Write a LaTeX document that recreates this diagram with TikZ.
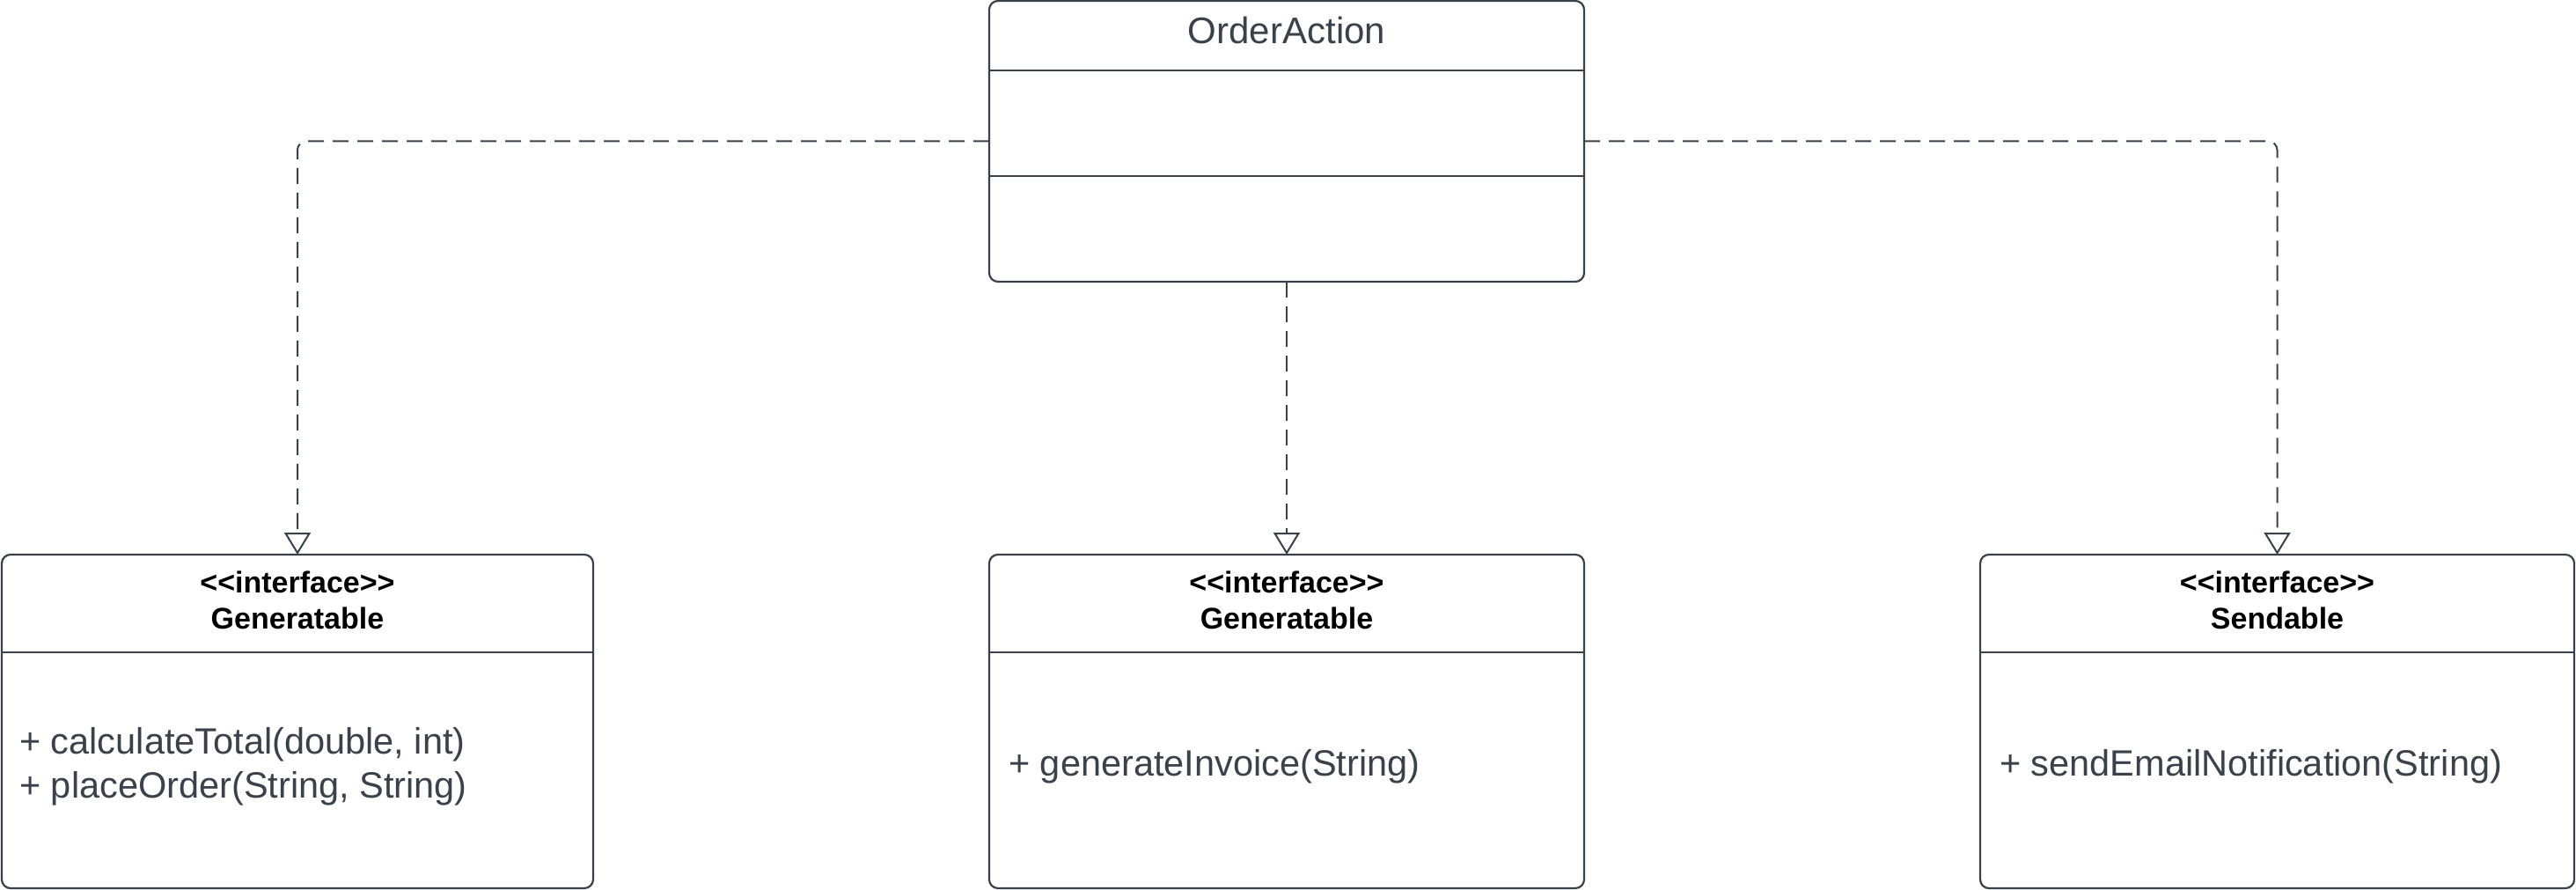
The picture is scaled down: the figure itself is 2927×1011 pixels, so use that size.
\documentclass[tikz,border=0pt]{standalone}
\usepackage{fontspec}
\setmainfont{Liberation Sans}
\usetikzlibrary{arrows.meta}
\definecolor{ink}{RGB}{58,65,74}
\newcommand{\stereo}[1]{{<}{<}#1{>}{>}}
\begin{document}
\begin{tikzpicture}[x=1pt,y=-1pt,
  classbox/.style={draw=ink, line width=2.2pt, rounded corners=10pt, outer sep=0pt, inner sep=0pt, fill=white},
  divider/.style={draw=ink, line width=2.2pt},
  hdr/.style={font=\bfseries\fontsize{34}{41}\selectfont, text=black, align=center, inner sep=0pt},
  member/.style={font=\fontsize{41.5}{50}\selectfont, text=ink, align=left, anchor=west, inner sep=0pt},
  realize/.style={draw=ink, line width=2pt, dash pattern=on 18pt off 10pt, rounded corners=10pt,
    -{Triangle[open, width=30pt, length=25pt, line width=2pt]}},
  realizethin/.style={realize, line width=1.3pt}]
\useasboundingbox (0,0) rectangle (2927,1011);

% class OrderAction
\node[classbox, minimum width=676pt, minimum height=319pt] (oa) at (1462,160.5) {};
\draw[divider] (1124,80) -- (1800,80);
\draw[divider] (1124,200) -- (1800,200);
\node[font=\fontsize{42}{50}\selectfont, text=ink, inner sep=0pt] (oaname) at (1462,34) {OrderAction};

% interface boxes
\node[classbox, minimum width=672pt, minimum height=379pt] (g1) at (338,819.5) {};
\node[classbox, minimum width=676pt, minimum height=379pt] (g2) at (1462,819.5) {};
\node[classbox, minimum width=675pt, minimum height=379pt] (sd) at (2587.5,819.5) {};
\draw[divider] (2,741) -- (674,741);
\draw[divider] (1124,741) -- (1800,741);
\draw[divider] (2250,741) -- (2925,741);

\node[hdr] (g1h) at (338,682) {\stereo{interface}\\Generatable};
\node[hdr] (g2h) at (1462,682) {\stereo{interface}\\Generatable};
\node[hdr] (sdh) at (2587.5,682) {\stereo{interface}\\Sendable};

\node[member] (g1m) at (22,871) {+ calculateTotal(double, int)\\+ placeOrder(String, String)};
\node[member] (g2m) at (1146,871) {+ generateInvoice(String)};
\node[member] (sdm) at (2272,871) {+ sendEmailNotification(String)};

% realization connectors
\draw[realize] (oa.west) -| (g1.north);
\draw[realize] (oa.east) -| (sd.north);
\draw[realizethin] (oa.south) -- (g2.north);
\end{tikzpicture}
\end{document}
